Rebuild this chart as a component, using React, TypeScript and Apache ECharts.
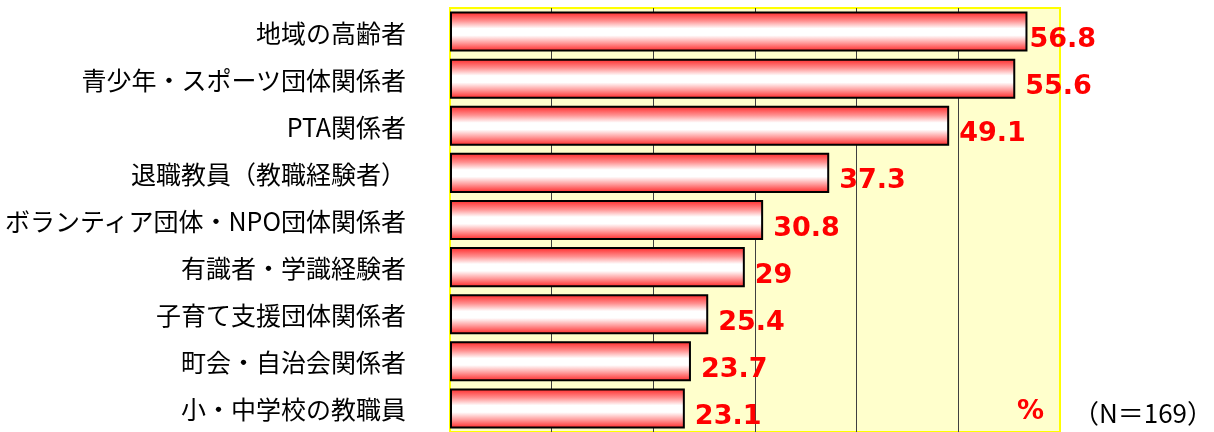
import React, { useEffect, useRef } from "react";
import * as echarts from "echarts";

const categories = [
  "地域の高齢者",
  "青少年・スポーツ団体関係者",
  "PTA関係者",
  "退職教員（教職経験者）",
  "ボランティア団体・NPO団体関係者",
  "有識者・学識経験者",
  "子育て支援団体関係者",
  "町会・自治会関係者",
  "小・中学校の教職員",
];
const values = [56.8, 55.6, 49.1, 37.3, 30.8, 29, 25.4, 23.7, 23.1];
const unitLabel = "%";
const sampleLabel = "（N＝169）";

export default function App() {
  const ref = useRef<HTMLDivElement>(null);
  useEffect(() => {
    if (!ref.current) return;
    const chart = echarts.init(ref.current, null, { renderer: "svg" });
    const gradient = new echarts.graphic.LinearGradient(0, 0, 0, 1, [
      { offset: 0, color: "#ff3030" },
      { offset: 0.22, color: "#ff9090" },
      { offset: 0.42, color: "#ffffff" },
      { offset: 0.6, color: "#ffffff" },
      { offset: 0.8, color: "#ff9a9a" },
      { offset: 1, color: "#ff3030" },
    ]);
    chart.setOption({
      animation: false,
      grid: {
        left: 450,
        top: 8,
        width: 610,
        height: 431,
        show: true,
        backgroundColor: "#ffffcc",
        borderColor: "#ffff00",
        borderWidth: 2,
      },
      xAxis: {
        type: "value",
        min: 0,
        max: 60,
        interval: 10,
        axisLabel: { show: false },
        axisLine: { show: false },
        axisTick: { show: false },
        splitLine: {
          show: true,
          showMinLine: false,
          showMaxLine: false,
          lineStyle: { color: "#404040", width: 1 },
        },
      },
      yAxis: {
        type: "category",
        inverse: true,
        data: categories,
        axisLine: { show: false },
        axisTick: { show: false },
        axisLabel: {
          color: "#000",
          fontSize: 25,
          fontFamily: "Noto Sans CJK JP",
          margin: 44,
        },
      },
      series: [
        {
          type: "bar",
          barCategoryGap: "15%",
          data: values.map((v, i) =>
            i === 0 ? { value: v, label: { distance: 2 } } : v
          ),
          itemStyle: {
            color: gradient,
            borderColor: "#000",
            borderWidth: 2,
          },
          label: {
            show: true,
            position: "right",
            distance: 10,
            offset: [0, 6],
            color: "#ff0000",
            fontSize: 27,
            fontWeight: "bold",
            fontFamily: "DejaVu Sans",
          },
        },
      ],
      graphic: [
        {
          type: "text",
          left: 1017,
          top: 396,
          style: {
            text: unitLabel,
            fill: "#ff0000",
            fontSize: 27,
            fontWeight: "bold",
            fontFamily: "DejaVu Sans",
          },
        },
        {
          type: "text",
          right: 1,
          top: 398,
          style: {
            text: sampleLabel,
            fill: "#000",
            fontSize: 26,
            fontFamily: "Noto Sans CJK JP",
          },
        },
      ],
    });
    return () => chart.dispose();
  }, []);
  return (
    <div
      ref={ref}
      style={{ position: "fixed", left: 0, top: 0, width: 1214, height: 432 }}
    />
  );
}
